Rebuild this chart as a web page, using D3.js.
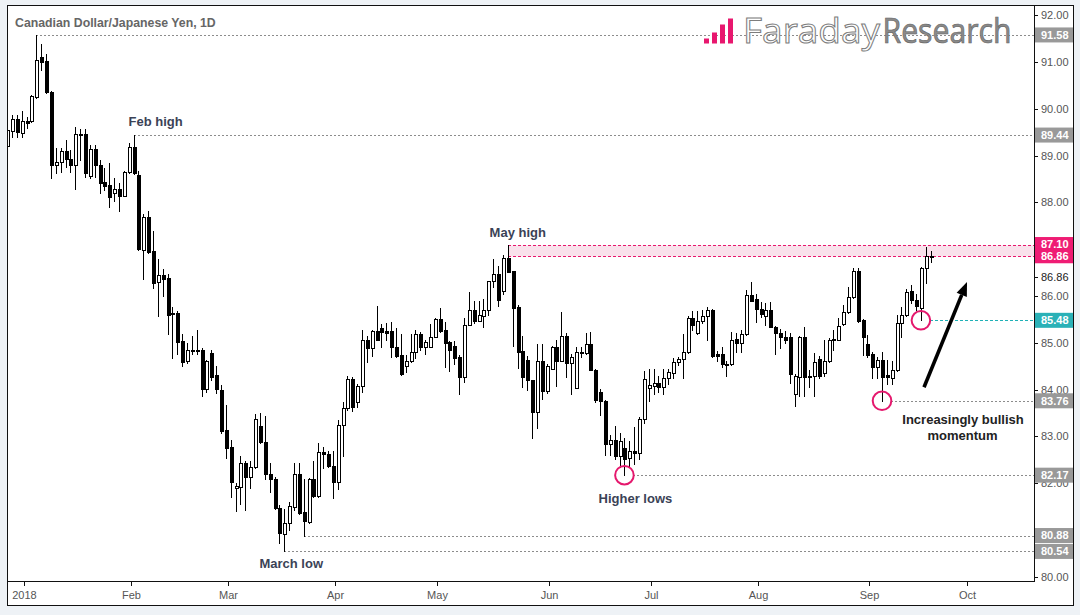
<!DOCTYPE html>
<html><head><meta charset="utf-8">
<script src="https://cdn.jsdelivr.net/npm/d3@7"></script>
<style>
html,body{margin:0;padding:0;background:#eef2f6;}
svg{display:block;}
</style></head><body>
<svg id="c" width="1080" height="615"></svg>
<script>
// ---- DATA (CAD/JPY daily, 27 Dec 2017 – 20 Sep 2018) ----
const firstDay = "2017-12-27";
const skippedDays = ["2018-01-01"];
const opens = [89.21,89.53,89.78,89.49,89.74,89.73,90.26,91.10,91.02,90.37,88.79,88.86,89.10,88.92,88.79,89.46,89.46,88.57,89.14,88.81,88.43,88.37,88.21,88.28,88.14,88.64,89.18,88.59,86.99,87.68,86.96,86.29,86.44,86.38,85.63,85.64,85.04,84.62,84.84,84.85,84.84,84.02,84.78,84.31,84.00,83.13,82.77,81.89,81.92,82.42,82.14,82.34,83.22,82.87,82.19,82.08,81.46,80.91,81.14,81.50,82.19,81.38,81.16,82.08,81.73,82.66,82.62,82.37,82.02,83.24,83.60,84.22,83.74,84.08,85.06,84.88,85.25,85.31,85.25,85.25,84.90,84.74,84.51,84.60,84.80,85.18,84.92,84.92,85.13,85.50,85.27,85.01,84.93,84.69,84.26,85.38,85.70,85.47,85.58,85.70,86.31,86.47,86.11,86.81,86.53,85.77,84.82,84.63,84.20,83.53,84.61,83.97,84.45,84.92,84.62,85.14,84.57,84.04,84.80,84.79,84.97,84.42,83.94,83.76,82.83,82.92,82.59,82.76,82.53,82.69,82.64,83.38,84.03,84.08,84.15,84.05,84.24,84.35,84.58,84.65,84.80,85.54,85.20,85.46,85.57,85.70,84.75,84.77,84.55,84.54,85.08,84.99,85.18,86.02,85.93,85.72,85.58,85.69,85.33,85.20,85.13,85.13,83.90,84.27,85.13,84.30,84.29,84.65,84.36,84.61,85.06,85.06,85.40,85.66,85.98,86.54,85.49,84.97,84.76,84.49,84.63,84.31,84.24,84.42,85.42,85.59,86.11,85.91,85.75,86.59,86.84];
const highs = [89.74,89.87,89.87,89.96,89.83,90.30,91.58,91.39,91.17,90.38,89.16,89.17,89.33,89.12,89.62,89.58,89.56,89.23,89.23,88.91,88.73,88.84,88.52,88.41,88.68,89.28,89.44,88.67,87.75,87.82,87.39,86.79,86.58,86.47,85.76,85.68,85.18,84.99,85.14,85.27,84.88,84.63,84.84,84.50,84.09,83.67,82.92,82.01,82.58,82.48,82.47,83.47,83.49,83.43,82.42,82.14,81.53,81.44,81.60,82.42,82.42,82.08,82.10,82.47,82.86,82.78,82.69,82.69,83.36,83.74,84.29,84.27,84.12,85.27,85.15,85.27,85.79,85.40,85.42,85.45,85.31,85.18,84.74,85.19,85.27,85.24,85.06,85.40,85.52,85.74,85.44,85.04,85.04,84.74,85.52,86.09,85.89,85.89,85.93,86.32,86.79,86.65,86.88,87.10,86.53,85.81,85.15,84.72,84.21,84.97,84.97,84.54,84.93,85.07,85.66,85.20,84.77,84.90,84.90,85.20,85.22,84.43,84.02,83.77,83.03,83.22,83.08,82.96,82.90,83.21,83.42,84.40,84.45,84.45,84.29,84.45,84.45,84.68,84.70,85.18,85.57,85.68,85.68,85.70,85.77,85.72,84.82,84.90,84.62,85.24,85.20,85.27,86.13,86.29,86.04,85.88,85.84,85.88,85.36,85.29,85.25,85.20,84.33,85.14,85.34,84.42,84.79,84.72,85.06,85.10,85.27,85.53,85.80,86.20,86.60,86.60,85.50,85.16,84.80,84.70,84.81,84.63,84.60,85.59,85.77,86.16,86.24,86.05,86.62,87.04,86.96];
const lows = [89.18,89.39,89.40,89.39,89.59,89.72,90.23,90.82,90.33,88.52,88.62,88.66,88.76,88.64,88.28,88.91,88.55,88.52,88.54,88.21,88.27,87.91,88.02,87.82,88.13,88.62,88.60,86.98,86.37,86.91,86.18,85.58,86.01,85.19,84.68,84.77,84.51,84.57,84.77,84.77,83.87,83.94,84.20,83.92,83.07,82.54,81.70,81.41,81.55,81.42,81.90,82.33,82.85,82.08,81.80,81.44,80.71,80.54,81.00,81.42,81.34,80.88,81.15,81.70,81.70,82.32,82.34,81.68,81.87,82.59,83.56,83.55,83.62,83.95,84.59,84.72,85.05,84.92,85.06,84.70,84.70,84.32,84.37,84.59,84.67,84.84,84.76,84.91,85.12,85.24,84.49,84.40,84.55,83.91,84.17,85.37,85.43,85.46,85.34,85.59,86.20,85.79,86.04,86.51,84.93,84.47,84.06,84.00,82.97,83.18,83.80,83.93,84.44,84.08,84.61,84.27,83.90,84.03,84.70,84.77,84.41,83.74,83.46,82.60,82.60,82.51,82.35,82.17,82.36,82.41,82.51,83.28,83.76,83.90,83.95,83.90,84.12,84.24,84.52,84.24,84.79,85.27,85.19,85.42,85.07,84.70,84.60,84.48,84.30,84.53,84.81,84.81,85.17,85.89,85.44,85.56,85.38,85.33,84.75,84.88,85.00,84.13,83.65,83.87,83.87,84.06,83.87,84.25,84.30,84.58,84.84,85.05,85.38,85.64,85.96,85.45,84.74,84.70,84.24,84.24,83.76,84.12,84.12,84.40,85.12,85.57,85.85,85.70,85.48,86.28,86.73];
const closes = [89.55,89.78,89.50,89.73,89.70,90.28,91.04,91.01,90.35,88.79,88.86,89.10,88.92,88.79,89.46,89.47,88.62,89.14,88.81,88.42,88.36,88.12,88.28,88.14,88.64,89.18,88.62,87.00,87.68,86.95,86.28,86.44,86.37,85.60,85.61,85.02,84.59,84.84,84.85,84.84,84.02,84.61,84.27,84.01,83.12,82.76,82.02,81.94,82.42,82.14,82.34,83.37,82.87,82.19,82.08,81.46,80.93,81.14,81.51,82.19,81.37,81.20,82.08,81.73,82.66,82.62,82.37,82.02,83.24,83.60,84.22,83.63,84.08,85.06,84.88,85.25,85.06,85.22,85.21,84.90,84.72,84.33,84.60,84.80,85.18,84.92,85.01,85.13,85.50,85.25,85.00,84.84,84.68,84.26,85.38,85.70,85.47,85.59,85.70,86.31,86.47,85.91,86.81,86.52,85.75,84.81,84.27,84.20,83.53,84.61,83.97,84.50,84.92,84.62,85.14,84.57,84.70,84.80,84.79,84.97,84.42,83.78,83.75,82.83,82.92,82.59,82.90,82.51,82.69,82.64,83.38,84.22,84.10,84.15,84.05,84.24,84.37,84.58,84.65,84.80,85.54,85.38,85.46,85.57,85.70,84.72,84.72,84.55,84.55,85.07,84.99,85.18,86.02,85.90,85.72,85.61,85.69,85.33,85.20,85.12,85.05,84.33,84.30,85.13,84.27,84.26,84.58,84.30,84.61,85.06,85.08,85.36,85.66,85.98,86.54,85.47,85.13,84.74,84.49,84.63,84.27,84.27,84.42,85.42,85.59,86.09,85.91,85.78,86.59,86.85,86.86];

const monthLabels = ["2018","Feb","Mar","Apr","May","Jun","Jul","Aug","Sep","Oct"];
const priceTicks = [80,81,82,83,84,85,86,87,88,89,90,91,92];
const lastTagValue = 86.41, lastTagText = "86.86";

const levelValues = [91.58, 89.44, 87.10, 86.86, 85.48, 83.76, 82.17, 80.88, 80.54];
const levelFromBar = [6, 26, 103, 103, 188, 180, 127, 61, 57];
const levelKinds = ["ref","ref","zone","zone","support","ref","ref","ref","ref"];
const circledBars = [127, 180, 188];
const circledValues = [82.17, 83.76, 85.48];

// ---- LAYOUT ----
const L=7, T=5, R=1034, B=581, AR=1073, AB=605;
const svg = d3.select("#c");
const x = d3.scaleLinear().domain([-0.04, 211.27]).range([L, R]);
const y = d3.scaleLinear().domain([79.908, 92.22]).range([B, T]);
const kindColor = {ref:"#8c8c8c", zone:"#e8176e", support:"#1fb0b6"};
const tagColor = {ref:"#999999", zone:"#ef1c74", support:"#2ab1b7"};

// trading days (categories)
const skip = new Set(skippedDays);
const fmt = d3.timeFormat("%Y-%m-%d");
const days = d3.timeDay.range(d3.timeParse("%Y-%m-%d")(firstDay), new Date(2018, 10, 1))
  .filter(d => d.getDay() !== 0 && d.getDay() !== 6 && !skip.has(fmt(d)));

// frame
svg.append("rect").attr("x", L+0.5).attr("y", T+0.5).attr("width", AR-L).attr("height", AB-T)
  .attr("fill", "#fff").attr("stroke", "#111").attr("stroke-width", 1);
svg.append("line").attr("x1", R+0.5).attr("x2", R+0.5).attr("y1", T).attr("y2", B+1).attr("stroke", "#111");
svg.append("line").attr("x1", L).attr("x2", R+1).attr("y1", B+0.5).attr("y2", B+0.5).attr("stroke", "#111");

svg.append("defs").append("clipPath").attr("id", "pc").append("rect")
  .attr("x", L+1).attr("y", T+1).attr("width", R-L-1).attr("height", B-T-1);
const plot = svg.append("g").attr("clip-path", "url(#pc)");

const cx = i => Math.round(x(i));
const ry = v => Math.round(y(v)) + 0.5;

// zone fill
plot.append("rect")
  .attr("x", cx(levelFromBar[2])).attr("y", ry(levelValues[2]))
  .attr("width", R - cx(levelFromBar[2])).attr("height", ry(levelValues[3]) - ry(levelValues[2]))
  .attr("fill", "#f9e1eb");

// level lines
levelValues.forEach((v, k) => {
  const start = cx(levelFromBar[k]) + (circledBars.includes(levelFromBar[k]) ? 9 : 0);
  plot.append("line").attr("x1", start).attr("x2", R).attr("y1", ry(v)).attr("y2", ry(v))
    .attr("stroke", kindColor[levelKinds[k]]).attr("stroke-width", 1)
    .attr("stroke-dasharray", levelKinds[k] === "ref" ? "2,2" : "3,2");
});

// candles
const idx = d3.range(opens.length);
plot.selectAll("line.wick").data(idx).join("line").attr("class", "wick")
  .attr("x1", i => cx(i)+0.5).attr("x2", i => cx(i)+0.5)
  .attr("y1", i => Math.round(y(highs[i]))).attr("y2", i => Math.round(y(lows[i]))+1)
  .attr("stroke", "#000").attr("stroke-width", 1);
plot.selectAll("rect.body").data(idx).join("rect").attr("class", "body")
  .attr("x", i => cx(i)-0.5)
  .attr("y", i => ry(Math.max(opens[i], closes[i])))
  .attr("width", 3)
  .attr("height", i => Math.max(1, ry(Math.min(opens[i], closes[i])) - ry(Math.max(opens[i], closes[i]))))
  .attr("fill", i => closes[i] >= opens[i] ? "#fff" : "#000")
  .attr("stroke", "#000").attr("stroke-width", 1);

// circles
circledBars.forEach((b, k) => {
  plot.append("circle").attr("cx", x(b)).attr("cy", y(circledValues[k])).attr("r", 9.3)
    .attr("fill", "none").attr("stroke", "#e5186d").attr("stroke-width", 2);
});

// arrow
{
  const x1 = x(188.64), y1 = y(84.05), x2 = x(197.49), y2 = y(86.30);
  const dx = x2-x1, dy = y2-y1, len = Math.hypot(dx, dy), ux = dx/len, uy = dy/len;
  const bx = x2 - 14*ux, by = y2 - 14*uy, px = -uy, py = ux;
  plot.append("line").attr("x1", x1).attr("y1", y1).attr("x2", bx).attr("y2", by)
    .attr("stroke", "#000").attr("stroke-width", 3.6);
  plot.append("path").attr("d", `M${x2},${y2}L${bx+5.5*px},${by+5.5*py}L${bx-5.5*px},${by-5.5*py}Z`).attr("fill", "#000");
}

// annotations
const ann = svg.append("g").attr("font-family", "'Liberation Sans', Arial, sans-serif")
  .attr("font-weight", "bold").attr("font-size", 13).attr("text-anchor", "middle");
ann.append("text").attr("x", x(26)+22).attr("y", y(89.44)-9).attr("fill", "#3b4256").text("Feb high");
ann.append("text").attr("x", x(103)+10).attr("y", y(87.10)-8).attr("fill", "#3b4256").text("May high");
ann.append("text").attr("x", x(57)+7).attr("y", y(80.54)+16.5).attr("fill", "#3b4256").text("March low");
ann.append("text").attr("x", x(127)+11).attr("y", y(82.17)+27.5).attr("fill", "#3b4256").text("Higher lows");
ann.append("text").attr("x", 963).attr("y", 424).attr("fill", "#222").text("Increasingly bullish");
ann.append("text").attr("x", 962.5).attr("y", 440).attr("fill", "#222").text("momentum");

// title
svg.append("text").attr("x", 15).attr("y", 27).attr("font-family", "'Liberation Sans', Arial, sans-serif")
  .attr("font-weight", "bold").attr("font-size", 12.3).attr("fill", "#666")
  .text("Canadian Dollar/Japanese Yen, 1D");

// logo
{
  const lg = svg.append("g");
  [[704,5],[712,11],[720,19],[728,25]].forEach(([bx,h]) =>
    lg.append("rect").attr("x", bx).attr("y", 43.5-h).attr("width", 5).attr("height", h).attr("fill", "#e8176e"));
  lg.append("text").attr("x", 743).attr("y", 43).attr("font-family", "'Open Sans', sans-serif")
    .attr("font-size", 35).attr("font-weight", 400).attr("fill", "#fff").attr("stroke", "#7d7d7d").attr("stroke-width", 1)
    .attr("textLength", 137).attr("lengthAdjust", "spacingAndGlyphs").text("Faraday");
  lg.append("text").attr("x", 882.5).attr("y", 43).attr("font-family", "'Open Sans', sans-serif")
    .attr("font-size", 35).attr("font-weight", 400).attr("fill", "#8a8a8a").attr("stroke", "#666").attr("stroke-width", 0.7)
    .attr("textLength", 129).attr("lengthAdjust", "spacingAndGlyphs").text("Research");
}

// y axis
const ya = svg.append("g").attr("font-family", "'Liberation Sans', Arial, sans-serif").attr("font-size", 11);
priceTicks.forEach(v => {
  ya.append("line").attr("x1", R).attr("x2", R+4).attr("y1", ry(v)).attr("y2", ry(v)).attr("stroke", "#111");
  const hidden = levelValues.some(lv => Math.abs(y(lv) - y(v)) < 7.5);
  if (!hidden)
    ya.append("text").attr("x", 1041).attr("y", y(v)).attr("dy", "0.36em").attr("fill", "#555").text(v.toFixed(2));
});
ya.append("line").attr("x1", R).attr("x2", R+4).attr("y1", ry(lastTagValue)).attr("y2", ry(lastTagValue)).attr("stroke", "#111");
ya.append("text").attr("x", 1041).attr("y", y(lastTagValue)).attr("dy", "0.36em").attr("fill", "#222").text(lastTagText);

levelValues.forEach((v, k) => {
  ya.append("rect").attr("x", R+1).attr("y", y(v)-7.5).attr("width", AR-R-1).attr("height", 15)
    .attr("fill", tagColor[levelKinds[k]]);
});
levelValues.forEach((v, k) => {
  ya.append("text").attr("x", 1041).attr("y", y(v)).attr("dy", "0.36em").attr("fill", "#fff")
    .attr("font-weight", "bold").text(v.toFixed(2));
});

// x axis (month ticks)
const xa = svg.append("g").attr("font-family", "'Liberation Sans', Arial, sans-serif").attr("font-size", 11)
  .attr("text-anchor", "middle");
monthLabels.forEach((lab, m) => {
  const i = days.findIndex(d => d.getFullYear() === 2018 && d.getMonth() === m);
  const tx = Math.round(x(i) + 2) + 0.5;
  xa.append("line").attr("x1", tx).attr("x2", tx).attr("y1", B).attr("y2", B+5).attr("stroke", "#111");
  xa.append("text").attr("x", tx).attr("y", 599).attr("fill", "#555").text(lab);
});
</script>
</body></html>
